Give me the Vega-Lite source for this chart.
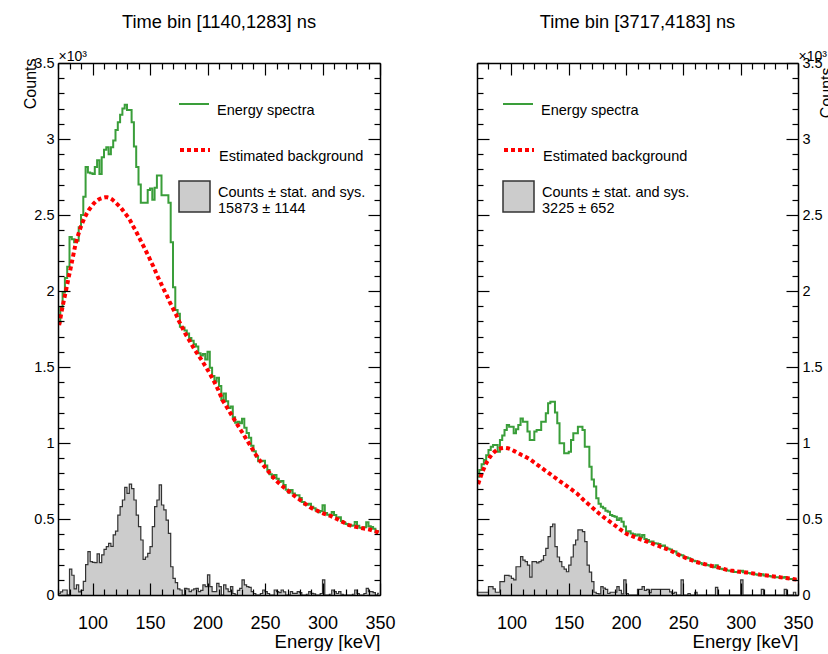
{
  "$schema": "https://vega.github.io/schema/vega-lite/v6.json",
  "usermeta": {"embedOptions": {"actions": false}},
  "background": "white",
  "padding": {"left": 22, "top": 12, "right": 0, "bottom": 0},
  "config": {
    "font": "Liberation Sans",
    "view": {"stroke": null},
    "axis": {"domainColor": "black", "domainWidth": 1.5, "tickColor": "black", "tickWidth": 1.2, "grid": false, "labelColor": "black", "titleColor": "black", "labelFont": "Liberation Sans", "titleFont": "Liberation Sans", "titleFontWeight": "normal"},
    "title": {"font": "Liberation Sans", "fontSize": 18.3, "fontWeight": "normal", "color": "black", "anchor": "middle", "frame": "group", "offset": 17},
    "legend": {"labelFont": "Liberation Sans", "labelFontSize": 14.5, "labelColor": "black", "padding": 0, "labelLimit": 400, "title": null}
  },
  "datasets": {
    "early": [
      {"e":71,"spec":1790,"bkg":1775,"sig":10},{"e":73,"spec":1890,"bkg":1860,"sig":20},{"e":75,"spec":1990,"bkg":1935,"sig":33},{"e":77,"spec":2085,"bkg":2005,"sig":33},{"e":79,"spec":2160,"bkg":2080,"sig":0},
      {"e":81,"spec":2355,"bkg":2150,"sig":170},{"e":83,"spec":2340,"bkg":2225,"sig":130},{"e":85,"spec":2320,"bkg":2300,"sig":40},{"e":87,"spec":2330,"bkg":2355,"sig":66},{"e":89,"spec":2420,"bkg":2405,"sig":20},
      {"e":91,"spec":2500,"bkg":2445,"sig":30},{"e":93,"spec":2620,"bkg":2480,"sig":90},{"e":95,"spec":2815,"bkg":2510,"sig":200},{"e":97,"spec":2780,"bkg":2535,"sig":285},{"e":99,"spec":2775,"bkg":2555,"sig":220},
      {"e":101,"spec":2770,"bkg":2575,"sig":215},{"e":103,"spec":2815,"bkg":2590,"sig":213},{"e":105,"spec":2860,"bkg":2600,"sig":270},{"e":107,"spec":2770,"bkg":2608,"sig":213},{"e":109,"spec":2880,"bkg":2613,"sig":264},
      {"e":111,"spec":2930,"bkg":2616,"sig":300},{"e":113,"spec":2945,"bkg":2616,"sig":318},{"e":115,"spec":2900,"bkg":2612,"sig":340},{"e":117,"spec":2945,"bkg":2603,"sig":320},{"e":119,"spec":2990,"bkg":2590,"sig":395},
      {"e":121,"spec":3060,"bkg":2575,"sig":420},{"e":123,"spec":3110,"bkg":2560,"sig":526},{"e":125,"spec":3160,"bkg":2545,"sig":581},{"e":127,"spec":3200,"bkg":2525,"sig":625},{"e":129,"spec":3225,"bkg":2505,"sig":708},
      {"e":131,"spec":3190,"bkg":2485,"sig":669},{"e":133,"spec":3190,"bkg":2460,"sig":730},{"e":135,"spec":3110,"bkg":2430,"sig":700},{"e":137,"spec":2950,"bkg":2405,"sig":625},{"e":139,"spec":2815,"bkg":2375,"sig":526},
      {"e":141,"spec":2700,"bkg":2345,"sig":450},{"e":143,"spec":2580,"bkg":2315,"sig":362},{"e":145,"spec":2580,"bkg":2285,"sig":235},{"e":147,"spec":2580,"bkg":2255,"sig":250},{"e":149,"spec":2665,"bkg":2225,"sig":274},
      {"e":151,"spec":2675,"bkg":2190,"sig":318},{"e":153,"spec":2600,"bkg":2160,"sig":450},{"e":155,"spec":2680,"bkg":2125,"sig":581},{"e":157,"spec":2760,"bkg":2090,"sig":625},{"e":159,"spec":2760,"bkg":2060,"sig":724},
      {"e":161,"spec":2630,"bkg":2025,"sig":592},{"e":163,"spec":2630,"bkg":1995,"sig":560},{"e":165,"spec":2630,"bkg":1965,"sig":493},{"e":167,"spec":2580,"bkg":1930,"sig":406},{"e":169,"spec":2320,"bkg":1900,"sig":186},
      {"e":171,"spec":2025,"bkg":1870,"sig":110},{"e":173,"spec":1875,"bkg":1840,"sig":81},{"e":175,"spec":1850,"bkg":1805,"sig":40},{"e":177,"spec":1765,"bkg":1775,"sig":33},{"e":179,"spec":1760,"bkg":1745,"sig":0},
      {"e":181,"spec":1740,"bkg":1715,"sig":44},{"e":183,"spec":1720,"bkg":1690,"sig":40},{"e":185,"spec":1690,"bkg":1665,"sig":22},{"e":187,"spec":1672,"bkg":1638,"sig":33},{"e":189,"spec":1650,"bkg":1612,"sig":40},
      {"e":191,"spec":1635,"bkg":1590,"sig":44},{"e":193,"spec":1590,"bkg":1567,"sig":22},{"e":195,"spec":1575,"bkg":1545,"sig":30},{"e":197,"spec":1585,"bkg":1520,"sig":66},{"e":199,"spec":1550,"bkg":1495,"sig":55},
      {"e":201,"spec":1600,"bkg":1470,"sig":132},{"e":203,"spec":1495,"bkg":1443,"sig":55},{"e":205,"spec":1440,"bkg":1415,"sig":22},{"e":207,"spec":1405,"bkg":1385,"sig":22},{"e":209,"spec":1430,"bkg":1355,"sig":77},
      {"e":211,"spec":1375,"bkg":1320,"sig":55},{"e":213,"spec":1283,"bkg":1283,"sig":0},{"e":215,"spec":1325,"bkg":1258,"sig":66},{"e":217,"spec":1275,"bkg":1233,"sig":40},{"e":219,"spec":1230,"bkg":1208,"sig":22},
      {"e":221,"spec":1240,"bkg":1183,"sig":55},{"e":223,"spec":1170,"bkg":1158,"sig":10},{"e":225,"spec":1133,"bkg":1133,"sig":0},{"e":227,"spec":1140,"bkg":1108,"sig":30},{"e":229,"spec":1130,"bkg":1084,"sig":44},
      {"e":231,"spec":1160,"bkg":1060,"sig":99},{"e":233,"spec":1100,"bkg":1035,"sig":66},{"e":235,"spec":1065,"bkg":1010,"sig":55},{"e":237,"spec":1035,"bkg":985,"sig":50},{"e":239,"spec":982,"bkg":960,"sig":22},
      {"e":241,"spec":945,"bkg":934,"sig":10},{"e":243,"spec":912,"bkg":912,"sig":0},{"e":245,"spec":880,"bkg":890,"sig":0},{"e":247,"spec":880,"bkg":870,"sig":10},{"e":249,"spec":883,"bkg":850,"sig":33},
      {"e":251,"spec":852,"bkg":830,"sig":22},{"e":253,"spec":822,"bkg":812,"sig":10},{"e":255,"spec":794,"bkg":794,"sig":0},{"e":257,"spec":770,"bkg":776,"sig":0},{"e":259,"spec":790,"bkg":757,"sig":33},
      {"e":261,"spec":765,"bkg":743,"sig":22},{"e":263,"spec":745,"bkg":730,"sig":15},{"e":265,"spec":750,"bkg":717,"sig":33},{"e":267,"spec":724,"bkg":704,"sig":20},{"e":269,"spec":692,"bkg":692,"sig":0},
      {"e":271,"spec":675,"bkg":680,"sig":0},{"e":273,"spec":690,"bkg":668,"sig":22},{"e":275,"spec":667,"bkg":656,"sig":11},{"e":277,"spec":656,"bkg":645,"sig":11},{"e":279,"spec":656,"bkg":634,"sig":22},
      {"e":281,"spec":638,"bkg":623,"sig":15},{"e":283,"spec":612,"bkg":612,"sig":0},{"e":285,"spec":595,"bkg":600,"sig":0},{"e":287,"spec":594,"bkg":589,"sig":5},{"e":289,"spec":600,"bkg":578,"sig":22},
      {"e":291,"spec":581,"bkg":570,"sig":11},{"e":293,"spec":571,"bkg":563,"sig":8},{"e":295,"spec":556,"bkg":556,"sig":0},{"e":297,"spec":545,"bkg":549,"sig":0},{"e":299,"spec":552,"bkg":542,"sig":10},
      {"e":301,"spec":590,"bkg":536,"sig":99},{"e":303,"spec":540,"bkg":530,"sig":0},{"e":305,"spec":528,"bkg":526,"sig":0},{"e":307,"spec":525,"bkg":520,"sig":5},{"e":309,"spec":546,"bkg":513,"sig":33},
      {"e":311,"spec":527,"bkg":505,"sig":22},{"e":313,"spec":508,"bkg":498,"sig":10},{"e":315,"spec":512,"bkg":490,"sig":22},{"e":317,"spec":487,"bkg":482,"sig":5},{"e":319,"spec":475,"bkg":475,"sig":0},
      {"e":321,"spec":467,"bkg":467,"sig":0},{"e":323,"spec":460,"bkg":460,"sig":0},{"e":325,"spec":456,"bkg":456,"sig":0},{"e":327,"spec":457,"bkg":452,"sig":5},{"e":329,"spec":481,"bkg":448,"sig":33},
      {"e":331,"spec":455,"bkg":445,"sig":10},{"e":333,"spec":442,"bkg":442,"sig":0},{"e":335,"spec":439,"bkg":439,"sig":0},{"e":337,"spec":446,"bkg":436,"sig":10},{"e":339,"spec":478,"bkg":434,"sig":44},
      {"e":341,"spec":453,"bkg":431,"sig":22},{"e":343,"spec":448,"bkg":426,"sig":22},{"e":345,"spec":436,"bkg":421,"sig":15},{"e":347,"spec":416,"bkg":416,"sig":0},{"e":349,"spec":421,"bkg":410,"sig":11}
    ],
    "late": [
      {"e":71,"spec":778,"bkg":730,"sig":18},{"e":73,"spec":822,"bkg":775,"sig":18},{"e":75,"spec":860,"bkg":815,"sig":18},{"e":77,"spec":888,"bkg":850,"sig":18},{"e":79,"spec":920,"bkg":880,"sig":18},
      {"e":81,"spec":954,"bkg":905,"sig":55},{"e":83,"spec":976,"bkg":925,"sig":55},{"e":85,"spec":987,"bkg":940,"sig":40},{"e":87,"spec":987,"bkg":952,"sig":18},{"e":89,"spec":943,"bkg":960,"sig":18},
      {"e":91,"spec":1020,"bkg":965,"sig":88},{"e":93,"spec":1050,"bkg":967,"sig":88},{"e":95,"spec":1086,"bkg":967,"sig":129},{"e":97,"spec":1118,"bkg":965,"sig":129},{"e":99,"spec":1107,"bkg":960,"sig":125},
      {"e":101,"spec":1107,"bkg":953,"sig":110},{"e":103,"spec":1064,"bkg":945,"sig":99},{"e":105,"spec":1090,"bkg":937,"sig":186},{"e":107,"spec":1118,"bkg":929,"sig":186},{"e":109,"spec":1162,"bkg":921,"sig":252},
      {"e":111,"spec":1140,"bkg":914,"sig":230},{"e":113,"spec":1140,"bkg":906,"sig":219},{"e":115,"spec":1075,"bkg":898,"sig":197},{"e":117,"spec":1020,"bkg":888,"sig":118},{"e":119,"spec":1020,"bkg":877,"sig":219},
      {"e":121,"spec":1075,"bkg":866,"sig":219},{"e":123,"spec":1086,"bkg":855,"sig":212},{"e":125,"spec":1086,"bkg":844,"sig":220},{"e":127,"spec":1140,"bkg":833,"sig":230},{"e":129,"spec":1140,"bkg":822,"sig":260},
      {"e":131,"spec":1195,"bkg":811,"sig":307},{"e":133,"spec":1261,"bkg":800,"sig":384},{"e":135,"spec":1272,"bkg":789,"sig":450},{"e":137,"spec":1272,"bkg":778,"sig":467},{"e":139,"spec":1200,"bkg":767,"sig":318},
      {"e":141,"spec":1130,"bkg":756,"sig":250},{"e":143,"spec":998,"bkg":745,"sig":219},{"e":145,"spec":998,"bkg":735,"sig":186},{"e":147,"spec":932,"bkg":724,"sig":170},{"e":149,"spec":932,"bkg":713,"sig":153},
      {"e":151,"spec":943,"bkg":702,"sig":197},{"e":153,"spec":1020,"bkg":691,"sig":250},{"e":155,"spec":1064,"bkg":680,"sig":330},{"e":157,"spec":1064,"bkg":669,"sig":362},{"e":159,"spec":1107,"bkg":655,"sig":428},
      {"e":161,"spec":1107,"bkg":640,"sig":428},{"e":163,"spec":1086,"bkg":625,"sig":417},{"e":165,"spec":976,"bkg":612,"sig":351},{"e":167,"spec":976,"bkg":599,"sig":197},{"e":169,"spec":844,"bkg":586,"sig":150},
      {"e":171,"spec":760,"bkg":572,"sig":88},{"e":173,"spec":713,"bkg":559,"sig":18},{"e":175,"spec":636,"bkg":546,"sig":10},{"e":177,"spec":600,"bkg":533,"sig":7},{"e":179,"spec":581,"bkg":521,"sig":55},
      {"e":181,"spec":570,"bkg":509,"sig":45},{"e":183,"spec":555,"bkg":498,"sig":37},{"e":185,"spec":548,"bkg":487,"sig":10},{"e":187,"spec":526,"bkg":476,"sig":18},{"e":189,"spec":520,"bkg":465,"sig":18},
      {"e":191,"spec":515,"bkg":454,"sig":18},{"e":193,"spec":493,"bkg":443,"sig":55},{"e":195,"spec":505,"bkg":431,"sig":30},{"e":197,"spec":482,"bkg":420,"sig":8},{"e":199,"spec":450,"bkg":410,"sig":99},
      {"e":201,"spec":416,"bkg":400,"sig":10},{"e":203,"spec":420,"bkg":395,"sig":0},{"e":205,"spec":405,"bkg":389,"sig":0},{"e":207,"spec":400,"bkg":383,"sig":0},{"e":209,"spec":392,"bkg":377,"sig":0},
      {"e":211,"spec":398,"bkg":371,"sig":37},{"e":213,"spec":380,"bkg":365,"sig":37},{"e":215,"spec":395,"bkg":360,"sig":55},{"e":217,"spec":368,"bkg":354,"sig":30},{"e":219,"spec":362,"bkg":349,"sig":37},
      {"e":221,"spec":350,"bkg":343,"sig":15},{"e":223,"spec":352,"bkg":338,"sig":37},{"e":225,"spec":340,"bkg":332,"sig":37},{"e":227,"spec":338,"bkg":326,"sig":37},{"e":229,"spec":335,"bkg":321,"sig":37},
      {"e":231,"spec":322,"bkg":315,"sig":37},{"e":233,"spec":325,"bkg":310,"sig":37},{"e":235,"spec":312,"bkg":304,"sig":37},{"e":237,"spec":305,"bkg":298,"sig":37},{"e":239,"spec":300,"bkg":291,"sig":20},
      {"e":241,"spec":288,"bkg":284,"sig":10},{"e":243,"spec":286,"bkg":276,"sig":18},{"e":245,"spec":272,"bkg":268,"sig":0},{"e":247,"spec":265,"bkg":260,"sig":0},{"e":249,"spec":262,"bkg":253,"sig":99},
      {"e":251,"spec":250,"bkg":247,"sig":0},{"e":253,"spec":246,"bkg":241,"sig":0},{"e":255,"spec":242,"bkg":235,"sig":10},{"e":257,"spec":233,"bkg":229,"sig":0},{"e":259,"spec":226,"bkg":223,"sig":0},
      {"e":261,"spec":222,"bkg":218,"sig":18},{"e":263,"spec":214,"bkg":214,"sig":0},{"e":265,"spec":211,"bkg":210,"sig":0},{"e":267,"spec":203,"bkg":206,"sig":0},{"e":269,"spec":204,"bkg":202,"sig":0},
      {"e":271,"spec":198,"bkg":199,"sig":0},{"e":273,"spec":194,"bkg":195,"sig":0},{"e":275,"spec":186,"bkg":191,"sig":0},{"e":277,"spec":183,"bkg":188,"sig":0},{"e":279,"spec":196,"bkg":184,"sig":50},
      {"e":281,"spec":176,"bkg":180,"sig":0},{"e":283,"spec":172,"bkg":177,"sig":0},{"e":285,"spec":170,"bkg":172,"sig":0},{"e":287,"spec":164,"bkg":168,"sig":0},{"e":289,"spec":162,"bkg":165,"sig":0},
      {"e":291,"spec":160,"bkg":162,"sig":0},{"e":293,"spec":156,"bkg":160,"sig":0},{"e":295,"spec":152,"bkg":158,"sig":0},{"e":297,"spec":151,"bkg":155,"sig":0},{"e":299,"spec":154,"bkg":153,"sig":0},
      {"e":301,"spec":160,"bkg":151,"sig":99},{"e":303,"spec":150,"bkg":149,"sig":0},{"e":305,"spec":146,"bkg":148,"sig":0},{"e":307,"spec":145,"bkg":147,"sig":0},{"e":309,"spec":141,"bkg":144,"sig":0},
      {"e":311,"spec":140,"bkg":142,"sig":0},{"e":313,"spec":136,"bkg":139,"sig":0},{"e":315,"spec":134,"bkg":137,"sig":0},{"e":317,"spec":130,"bkg":134,"sig":0},{"e":319,"spec":137,"bkg":132,"sig":37},
      {"e":321,"spec":128,"bkg":130,"sig":0},{"e":323,"spec":126,"bkg":128,"sig":0},{"e":325,"spec":125,"bkg":126,"sig":0},{"e":327,"spec":121,"bkg":124,"sig":0},{"e":329,"spec":121,"bkg":122,"sig":0},
      {"e":331,"spec":117,"bkg":120,"sig":0},{"e":333,"spec":117,"bkg":118,"sig":0},{"e":335,"spec":113,"bkg":116,"sig":0},{"e":337,"spec":114,"bkg":114,"sig":0},{"e":339,"spec":118,"bkg":112,"sig":37},
      {"e":341,"spec":109,"bkg":110,"sig":0},{"e":343,"spec":106,"bkg":108,"sig":0},{"e":345,"spec":105,"bkg":105,"sig":0},{"e":347,"spec":104,"bkg":103,"sig":18},{"e":349,"spec":100,"bkg":101,"sig":0}
    ]
  },
  "resolve": {"scale": {"stroke": "independent", "fill": "independent"}, "legend": {"stroke": "independent", "fill": "independent"}},
  "bounds": "flush",
  "spacing": 97,
  "hconcat": [
    {
      "title": "Time bin [1140,1283] ns",
      "width": 322,
      "height": 532,
      "data": {"name": "early"},
      "resolve": {"scale": {"stroke": "independent"}, "legend": {"stroke": "independent"}, "axis": {"x": "independent", "y": "independent"}},
      "layer": [
        {
          "mark": {"type": "area", "interpolate": "step", "opacity": 1, "clip": true},
          "encoding": {
            "x": {"field": "e", "type": "quantitative", "scale": {"domain": [70, 350], "nice": false, "zero": false},
              "axis": {"orient": "bottom", "zindex": 1, "values": [70,80,90,100,110,120,130,140,150,160,170,180,190,200,210,220,230,240,250,260,270,280,290,300,310,320,330,340,350],
                "labelExpr": "datum.value % 50 === 0 ? datum.label : ''", "labelFontSize": 18, "labelPadding": 31, "labelBaseline": "top", "labelOverlap": false, "labelFlush": false,
                "tickSize": {"expr": "(datum.value % 50 === 0 ? -12 : -6)"},
                "title": "Energy [keV]", "titleFontSize": 18.5, "titleAnchor": "end", "titleAlign": "right", "titleBaseline": "alphabetic", "titleX": 322, "titleY": 52}},
            "y": {"field": "sig", "type": "quantitative", "scale": {"domain": [0, 3500], "nice": false},
              "axis": {"orient": "left", "zindex": 1, "values": [0,100,200,300,400,500,600,700,800,900,1000,1100,1200,1300,1400,1500,1600,1700,1800,1900,2000,2100,2200,2300,2400,2500,2600,2700,2800,2900,3000,3100,3200,3300,3400,3500],
                "labelExpr": "datum.value % 500 === 0 ? '' + datum.value / 1000 : ''", "labelFontSize": 14.5, "labelPadding": 16, "labelOverlap": false, "labelFlush": false,
                "tickSize": {"expr": "(datum.value % 500 === 0 ? -12 : -6)"},
                "title": "Counts", "titleFontSize": 16, "titleAngle": -90, "titleAlign": "right", "titleBaseline": "alphabetic", "titleX": -23, "titleY": -5}},
            "fill": {"datum": "Counts ± stat. and sys.", "type": "nominal", "scale": {"range": ["#cccccc"]},
              "legend": {"orient": "none", "legendX": 120, "legendY": 117, "symbolType": "square", "symbolSize": 961, "symbolStrokeColor": "#333333", "symbolStrokeWidth": 1.5, "symbolFillColor": "#cccccc", "labelOffset": 7, "labelBaseline": "alphabetic", "labelExpr": "['Counts ± stat. and sys.', '15873 ± 1144']"}}
          }
        },
        {
          "mark": {"type": "line", "interpolate": "step", "color": "#333333", "strokeWidth": 1.2, "clip": true},
          "encoding": {
            "x": {"field": "e", "type": "quantitative", "scale": {"domain": [70, 350], "nice": false, "zero": false},
              "axis": {"orient": "top", "zindex": 1, "values": [70,80,90,100,110,120,130,140,150,160,170,180,190,200,210,220,230,240,250,260,270,280,290,300,310,320,330,340,350],
                "labels": false, "tickSize": {"expr": "(datum.value % 50 === 0 ? -12 : -6)"},
                "title": "×10³", "titleFontSize": 14, "titleAngle": 0, "titleAlign": "left", "titleBaseline": "alphabetic", "titleX": 0, "titleY": -3}},
            "y": {"field": "sig", "type": "quantitative", "scale": {"domain": [0, 3500], "nice": false},
              "axis": {"orient": "right", "zindex": 1, "values": [0,100,200,300,400,500,600,700,800,900,1000,1100,1200,1300,1400,1500,1600,1700,1800,1900,2000,2100,2200,2300,2400,2500,2600,2700,2800,2900,3000,3100,3200,3300,3400,3500],
                "labels": false, "tickSize": {"expr": "(datum.value % 500 === 0 ? -12 : -6)"}, "title": null}}
          }
        },
        {
          "mark": {"type": "line", "interpolate": "step", "strokeWidth": 2, "clip": true},
          "encoding": {
            "x": {"field": "e", "type": "quantitative", "scale": {"domain": [70, 350], "nice": false, "zero": false}, "axis": null},
            "y": {"field": "spec", "type": "quantitative", "scale": {"domain": [0, 3500], "nice": false}, "axis": null},
            "stroke": {"datum": "Energy spectra", "type": "nominal", "scale": {"range": ["#3a9e3a"]},
              "legend": {"orient": "none", "legendX": 120, "legendY": 25, "symbolType": "stroke", "symbolSize": 900, "symbolStrokeWidth": 2, "labelOffset": 7, "labelBaseline": "top"}}
          }
        },
        {
          "mark": {"type": "line", "strokeWidth": 4, "strokeDash": [4, 3], "clip": true},
          "encoding": {
            "x": {"field": "e", "type": "quantitative", "scale": {"domain": [70, 350], "nice": false, "zero": false}, "axis": null},
            "y": {"field": "bkg", "type": "quantitative", "scale": {"domain": [0, 3500], "nice": false}, "axis": null},
            "stroke": {"datum": "Estimated background", "type": "nominal", "scale": {"range": ["#ff0000"]},
              "legend": {"orient": "none", "legendX": 120, "legendY": 70, "symbolType": "stroke", "symbolSize": 900, "symbolStrokeWidth": 4, "symbolDash": [4, 3], "labelOffset": 7, "labelBaseline": "top"}}
          }
        }
      ]
    },
    {
      "title": "Time bin [3717,4183] ns",
      "width": 321,
      "height": 532,
      "data": {"name": "late"},
      "resolve": {"scale": {"stroke": "independent"}, "legend": {"stroke": "independent"}, "axis": {"x": "independent", "y": "independent"}},
      "layer": [
        {
          "mark": {"type": "area", "interpolate": "step", "opacity": 1, "clip": true},
          "encoding": {
            "x": {"field": "e", "type": "quantitative", "scale": {"domain": [70, 350], "nice": false, "zero": false},
              "axis": {"orient": "bottom", "zindex": 1, "values": [70,80,90,100,110,120,130,140,150,160,170,180,190,200,210,220,230,240,250,260,270,280,290,300,310,320,330,340,350],
                "labelExpr": "datum.value % 50 === 0 ? datum.label : ''", "labelFontSize": 18, "labelPadding": 31, "labelBaseline": "top", "labelOverlap": false, "labelFlush": false,
                "tickSize": {"expr": "(datum.value % 50 === 0 ? -12 : -6)"},
                "title": "Energy [keV]", "titleFontSize": 18.5, "titleAnchor": "end", "titleAlign": "right", "titleBaseline": "alphabetic", "titleX": 321, "titleY": 52}},
            "y": {"field": "sig", "type": "quantitative", "scale": {"domain": [0, 3500], "nice": false},
              "axis": {"orient": "right", "zindex": 1, "values": [0,100,200,300,400,500,600,700,800,900,1000,1100,1200,1300,1400,1500,1600,1700,1800,1900,2000,2100,2200,2300,2400,2500,2600,2700,2800,2900,3000,3100,3200,3300,3400,3500],
                "labelExpr": "datum.value % 500 === 0 ? '' + datum.value / 1000 : ''", "labelFontSize": 14.5, "labelPadding": 16, "labelOverlap": false, "labelFlush": false,
                "tickSize": {"expr": "(datum.value % 500 === 0 ? -12 : -6)"},
                "title": "Counts", "titleFontSize": 16, "titleAngle": -90, "titleAlign": "right", "titleBaseline": "alphabetic", "titleX": 33, "titleY": 4}},
            "fill": {"datum": "Counts ± stat. and sys.", "type": "nominal", "scale": {"range": ["#cccccc"]},
              "legend": {"orient": "none", "legendX": 25, "legendY": 117, "symbolType": "square", "symbolSize": 961, "symbolStrokeColor": "#333333", "symbolStrokeWidth": 1.5, "symbolFillColor": "#cccccc", "labelOffset": 7, "labelBaseline": "alphabetic", "labelExpr": "['Counts ± stat. and sys.', '3225 ± 652']"}}
          }
        },
        {
          "mark": {"type": "line", "interpolate": "step", "color": "#333333", "strokeWidth": 1.2, "clip": true},
          "encoding": {
            "x": {"field": "e", "type": "quantitative", "scale": {"domain": [70, 350], "nice": false, "zero": false},
              "axis": {"orient": "top", "zindex": 1, "values": [70,80,90,100,110,120,130,140,150,160,170,180,190,200,210,220,230,240,250,260,270,280,290,300,310,320,330,340,350],
                "labels": false, "tickSize": {"expr": "(datum.value % 50 === 0 ? -12 : -6)"},
                "title": "×10³", "titleFontSize": 14, "titleAngle": 0, "titleAlign": "left", "titleBaseline": "alphabetic", "titleX": 321, "titleY": -3}},
            "y": {"field": "sig", "type": "quantitative", "scale": {"domain": [0, 3500], "nice": false},
              "axis": {"orient": "left", "zindex": 1, "values": [0,100,200,300,400,500,600,700,800,900,1000,1100,1200,1300,1400,1500,1600,1700,1800,1900,2000,2100,2200,2300,2400,2500,2600,2700,2800,2900,3000,3100,3200,3300,3400,3500],
                "labels": false, "tickSize": {"expr": "(datum.value % 500 === 0 ? -12 : -6)"}, "title": null}}
          }
        },
        {
          "mark": {"type": "line", "interpolate": "step", "strokeWidth": 2, "clip": true},
          "encoding": {
            "x": {"field": "e", "type": "quantitative", "scale": {"domain": [70, 350], "nice": false, "zero": false}, "axis": null},
            "y": {"field": "spec", "type": "quantitative", "scale": {"domain": [0, 3500], "nice": false}, "axis": null},
            "stroke": {"datum": "Energy spectra", "type": "nominal", "scale": {"range": ["#3a9e3a"]},
              "legend": {"orient": "none", "legendX": 25, "legendY": 25, "symbolType": "stroke", "symbolSize": 900, "symbolStrokeWidth": 2, "labelOffset": 7, "labelBaseline": "top"}}
          }
        },
        {
          "mark": {"type": "line", "strokeWidth": 4, "strokeDash": [4, 3], "clip": true},
          "encoding": {
            "x": {"field": "e", "type": "quantitative", "scale": {"domain": [70, 350], "nice": false, "zero": false}, "axis": null},
            "y": {"field": "bkg", "type": "quantitative", "scale": {"domain": [0, 3500], "nice": false}, "axis": null},
            "stroke": {"datum": "Estimated background", "type": "nominal", "scale": {"range": ["#ff0000"]},
              "legend": {"orient": "none", "legendX": 25, "legendY": 70, "symbolType": "stroke", "symbolSize": 900, "symbolStrokeWidth": 4, "symbolDash": [4, 3], "labelOffset": 7, "labelBaseline": "top"}}
          }
        }
      ]
    }
  ]
}
